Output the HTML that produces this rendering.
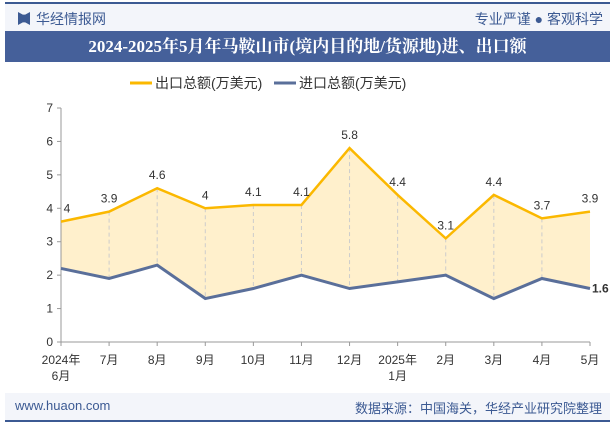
<!DOCTYPE html>
<html><head><meta charset="utf-8"><style>
body{margin:0;width:615px;height:427px;background:#fff;font-family:"Liberation Sans","Noto Sans CJK SC",sans-serif;overflow:hidden;position:relative}
.abs{position:absolute}
</style></head><body>
<div class="abs" style="left:5px;top:2px;width:605px;height:2px;background:#3c5a93"></div>
<div class="abs" style="left:5px;top:4px;width:605px;height:27px;background:#f3f5fa"></div>
<div class="abs" style="left:18px;top:12px;width:12px;height:13px;background:#3c5a93;clip-path:polygon(0 0,40% 20%,60% 20%,100% 0,100% 100%,60% 80%,40% 80%,0 100%)"></div>
<div class="abs" style="left:36px;top:9px;font-size:14px;color:#3c5a93">华经情报网</div>
<div class="abs" style="right:12px;top:9px;font-size:14px;color:#3c5a93">专业严谨 ● 客观科学</div>
<div class="abs" style="left:5px;top:31px;width:605px;height:31px;background:#45609a;color:#fff;font-family:'Liberation Serif','Noto Serif CJK SC',serif;font-weight:bold;font-size:17px;text-align:center;line-height:31px">2024-2025年5月年马鞍山市(境内目的地/货源地)进、出口额</div>
<div class="abs" style="left:5px;top:393px;width:605px;height:27px;background:#f3f5fa"></div>
<div class="abs" style="left:15px;top:398px;font-size:13px;color:#3c5a93">www.huaon.com</div>
<div class="abs" style="right:13px;top:398px;font-size:13px;color:#3c5a93">数据来源：中国海关，华经产业研究院整理</div>
<div class="abs" style="left:5px;top:420px;width:605px;height:2px;background:#3c5a93"></div>
<svg class="abs" style="left:0;top:0" width="615" height="427" id="chart"></svg>
<script>
const categories=["2024年\n6月","7月","8月","9月","10月","11月","12月","2025年\n1月","2月","3月","4月","5月"];
const exportValues=[3.6,3.9,4.6,4.0,4.1,4.1,5.8,4.4,3.1,4.4,3.7,3.9];
const exportLabels=["4","3.9","4.6","4","4.1","4.1","5.8","4.4","3.1","4.4","3.7","3.9"];
const importValues=[2.2,1.9,2.3,1.3,1.6,2.0,1.6,1.8,2.0,1.3,1.9,1.6];
const yTicks=[0,1,2,3,4,5,6,7];
const svg=document.getElementById('chart');const NS='http://www.w3.org/2000/svg';
const x0=61,x1=590,yb=342,yt=108;
const xs=i=>x0+(x1-x0)*i/(categories.length-1);
const ys=v=>yb-(yb-yt)*v/7;
function mk(t,a,txt){const e=document.createElementNS(NS,t);for(const k in a)e.setAttribute(k,a[k]);if(txt!==undefined)e.textContent=txt;svg.appendChild(e);return e;}
let e;
let pts=exportValues.map((v,i)=>xs(i)+','+ys(v)).join(' ')+' '+importValues.map((v,i)=>[i,v]).reverse().map(([i,v])=>xs(i)+','+ys(v)).join(' ');
e=mk('polygon',{points:pts,fill:'#fff0cc'});


categories.forEach((c,i)=>{if(i>0&&i<categories.length-1){e=mk('line',{x1:xs(i),x2:xs(i),y1:ys(exportValues[i]),y2:ys(importValues[i]),stroke:'#ccc','stroke-dasharray':'4,3'});

}});
e=mk('line',{x1:x0,x2:x0,y1:yt,y2:yb,stroke:'#999'});


e=mk('line',{x1:x0,x2:x1,y1:yb,y2:yb,stroke:'#999'});


yTicks.forEach(t=>{e=mk('line',{x1:x0-4,x2:x0,y1:ys(t),y2:ys(t),stroke:'#999'});


e=mk('text',{x:x0-8,y:ys(t)+4,'text-anchor':'end','font-size':12,fill:'#333'},t);

});
categories.forEach((c,i)=>{e=mk('line',{x1:xs(i),x2:xs(i),y1:yb,y2:yb+4,stroke:'#999'});


c.split('\n').forEach((l,j)=>{e=mk('text',{x:xs(i),y:yb+22+j*16,'text-anchor':'middle','font-size':12,fill:'#333'},l);

});});
e=mk('polyline',{points:exportValues.map((v,i)=>xs(i)+','+ys(v)).join(' '),fill:'none',stroke:'#fbb800','stroke-width':2.5});


e=mk('polyline',{points:importValues.map((v,i)=>xs(i)+','+ys(v)).join(' '),fill:'none',stroke:'#5a6f9a','stroke-width':3});


exportValues.forEach((v,i)=>{e=mk('text',{x:i==0?xs(i)+6:xs(i),y:ys(v)-9,'text-anchor':'middle','font-size':12,fill:'#333'},exportLabels[i]);

});
e=mk('text',{x:xs(11)+2,y:ys(importValues[11])+4,'font-size':12,fill:'#333','font-weight':'bold'},String(importValues[11]));


e=mk('line',{x1:130,x2:152,y1:83,y2:83,stroke:'#fbb800','stroke-width':3});


e=mk('text',{x:155,y:88,'font-size':14,fill:'#333'},'出口总额(万美元)');


e=mk('line',{x1:274,x2:296,y1:83,y2:83,stroke:'#5a6f9a','stroke-width':3});


e=mk('text',{x:299,y:88,'font-size':14,fill:'#333'},'进口总额(万美元)');


</script>
</body></html>
